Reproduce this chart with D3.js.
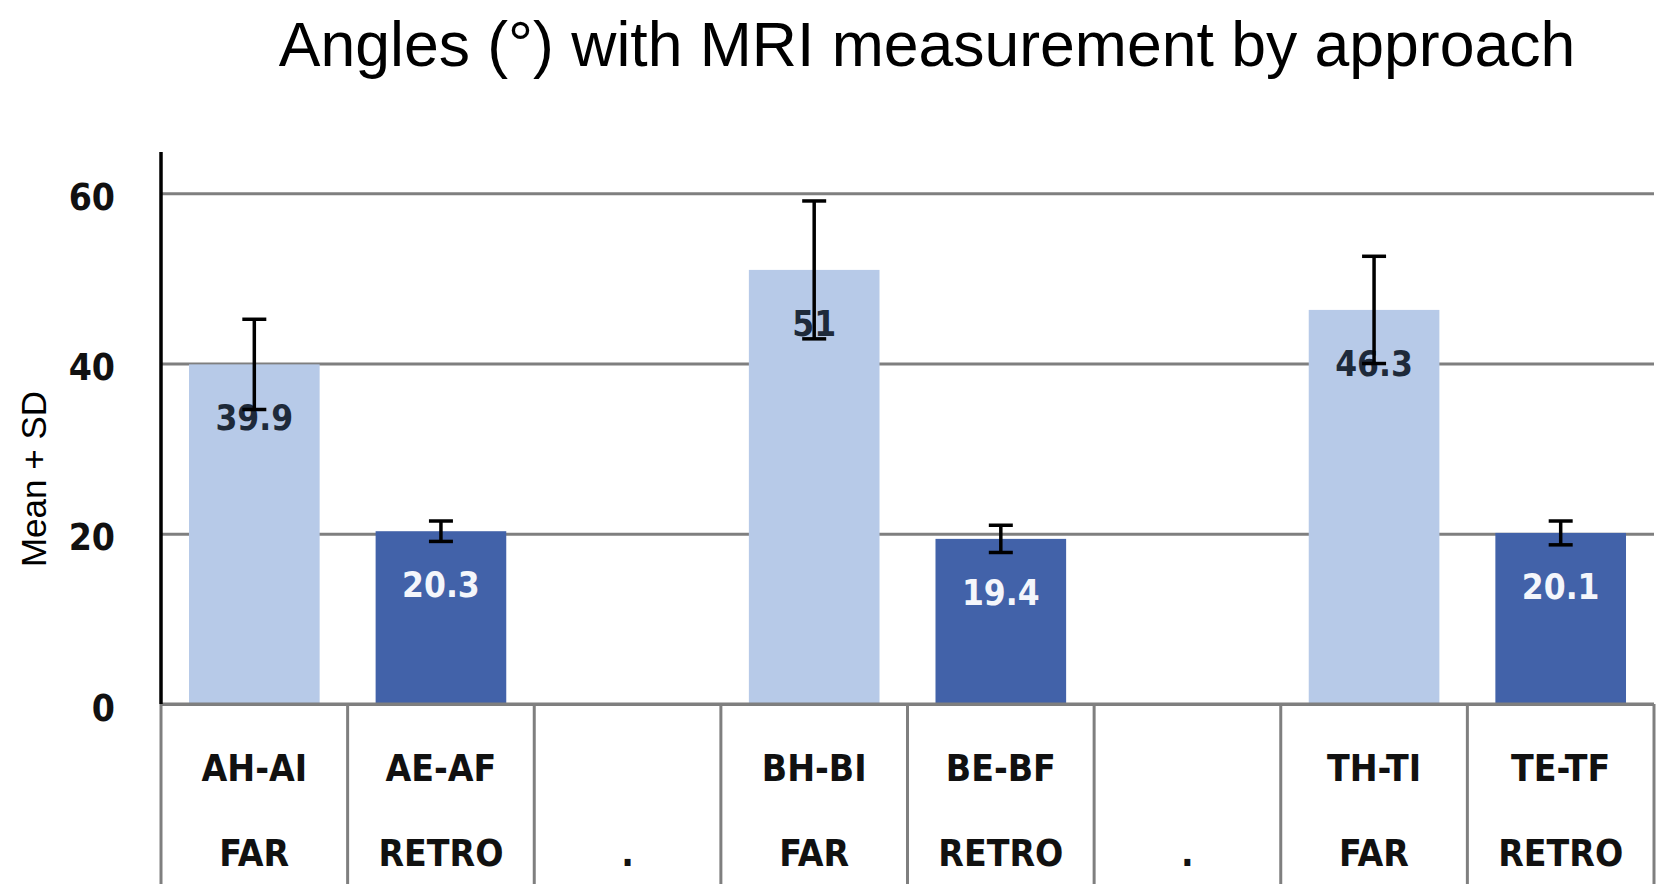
<!DOCTYPE html>
<html><head><meta charset="utf-8">
<script src="https://cdn.jsdelivr.net/npm/d3@7"></script>
<style>html,body{margin:0;padding:0;background:#fff;}svg{display:block;}</style>
</head><body>
<svg id="chart" width="1675" height="894"></svg>
<script>
const categories = ["AH-AI","AE-AF","gap1","BH-BI","BE-BF","gap2","TH-TI","TE-TF"];
const rowMeasure = ["AH-AI","AE-AF","","BH-BI","BE-BF","","TH-TI","TE-TF"];
const rowApproach = ["FAR","RETRO",".","FAR","RETRO",".","FAR","RETRO"];
const means = [39.9, 20.3, null, 51, 19.4, null, 46.3, 20.1];
const sds = [5.3, 1.2, null, 8.1, 1.6, null, 6.3, 1.4];
const labels = ["39.9","20.3","","51","19.4","","46.3","20.1"];
const approachType = ["FAR","RETRO",null,"FAR","RETRO",null,"FAR","RETRO"];
const yTicks = [0, 20, 40, 60];

const colors = {FAR:"#b7cae8", RETRO:"#4262a9"};
const labelColors = {FAR:"#1e2a3a", RETRO:"#f4f6fb"};

const svg = d3.select("#chart");
const x = d3.scaleBand().domain(categories).range([161, 1654]).paddingInner(0).paddingOuter(0);
const y = d3.scaleLinear().domain([0, 60]).range([704, 193.3]);
const bw = x.bandwidth();
const data = categories.map((c,i)=>({c, m:means[i], sd:sds[i], lab:labels[i], t:approachType[i], r1:rowMeasure[i], r2:rowApproach[i]}));

// title
svg.append("text").attr("x", 927).attr("y", 66).attr("text-anchor","middle")
  .attr("font-family","'Liberation Sans', Arial, sans-serif").attr("font-size", 62.5)
  .attr("fill","#000").text("Angles (°) with MRI measurement by approach");

// y axis title
svg.append("text").attr("transform","translate(46,479) rotate(-90)").attr("text-anchor","middle")
  .attr("font-family","'Liberation Sans', Arial, sans-serif").attr("font-size", 35)
  .attr("fill","#000").text("Mean + SD");

// gridlines
const gridAxis = d3.axisLeft(y).tickValues(yTicks).tickSize(-(1654-161)).tickFormat("");
const g = svg.append("g").attr("transform","translate(161,0)").call(gridAxis);
g.select(".domain").remove();
g.selectAll(".tick line").attr("stroke","#7f7f7f").attr("stroke-width",3);

// tick labels
svg.append("g").selectAll("text").data(yTicks).join("text")
  .attr("x", 115).attr("y", d=>y(d)+4).attr("text-anchor","end").attr("dominant-baseline","central")
  .attr("font-family","'DejaVu Sans Condensed','DejaVu Sans',sans-serif").attr("font-stretch","condensed")
  .attr("font-weight","bold").attr("font-size", 37).attr("fill","#111").text(d=>d);

// bars
const bars = data.filter(d=>d.m!=null);
svg.append("g").selectAll("rect").data(bars).join("rect")
  .attr("x", d=>x(d.c)+bw*0.15).attr("width", bw*0.7)
  .attr("y", d=>y(d.m)).attr("height", d=>y(0)-y(d.m))
  .attr("fill", d=>colors[d.t]);

// baseline redraw over bars
svg.append("line").attr("x1",161).attr("x2",1654).attr("y1",y(0)).attr("y2",y(0))
  .attr("stroke","#7f7f7f").attr("stroke-width",3);

// value labels
svg.append("g").selectAll("text").data(bars).join("text")
  .attr("x", d=>x(d.c)+bw/2).attr("y", d=>y(d.m)+66).attr("text-anchor","middle")
  .attr("font-family","'DejaVu Sans Condensed','DejaVu Sans',sans-serif").attr("font-stretch","condensed")
  .attr("font-weight", "bold").attr("font-size", 35)
  .attr("fill", d=>labelColors[d.t]).text(d=>d.lab);

// error bars
const eg = svg.append("g").attr("stroke","#000").attr("stroke-width",3.5);
bars.forEach(d=>{
  const cx = x(d.c)+bw/2;
  eg.append("line").attr("x1",cx).attr("x2",cx).attr("y1",y(d.m+d.sd)).attr("y2",y(d.m-d.sd));
  eg.append("line").attr("x1",cx-12).attr("x2",cx+12).attr("y1",y(d.m+d.sd)).attr("y2",y(d.m+d.sd));
  eg.append("line").attr("x1",cx-12).attr("x2",cx+12).attr("y1",y(d.m-d.sd)).attr("y2",y(d.m-d.sd));
});

// y axis line
svg.append("line").attr("x1",161).attr("x2",161).attr("y1",152).attr("y2",y(0))
  .attr("stroke","#000").attr("stroke-width",3.5);

// table separators
const seps = categories.map(c=>x(c)).concat([x(categories[categories.length-1])+bw]);
svg.append("g").selectAll("line").data(seps).join("line")
  .attr("x1",d=>d).attr("x2",d=>d).attr("y1",y(0)).attr("y2",884)
  .attr("stroke","#7f7f7f").attr("stroke-width",3);

// table labels
const tl = svg.append("g").attr("font-family","'DejaVu Sans Condensed','DejaVu Sans',sans-serif")
  .attr("font-stretch","condensed").attr("font-weight","bold").attr("font-size",37)
  .attr("fill","#111").attr("text-anchor","middle");
tl.selectAll("text.r1").data(data).join("text").attr("class","r1")
  .attr("x", d=>x(d.c)+bw/2).attr("y", 781).text(d=>d.r1);
tl.selectAll("text.r2").data(data).join("text").attr("class","r2")
  .attr("x", d=>x(d.c)+bw/2).attr("y", 866).text(d=>d.r2);
</script>
</body></html>
